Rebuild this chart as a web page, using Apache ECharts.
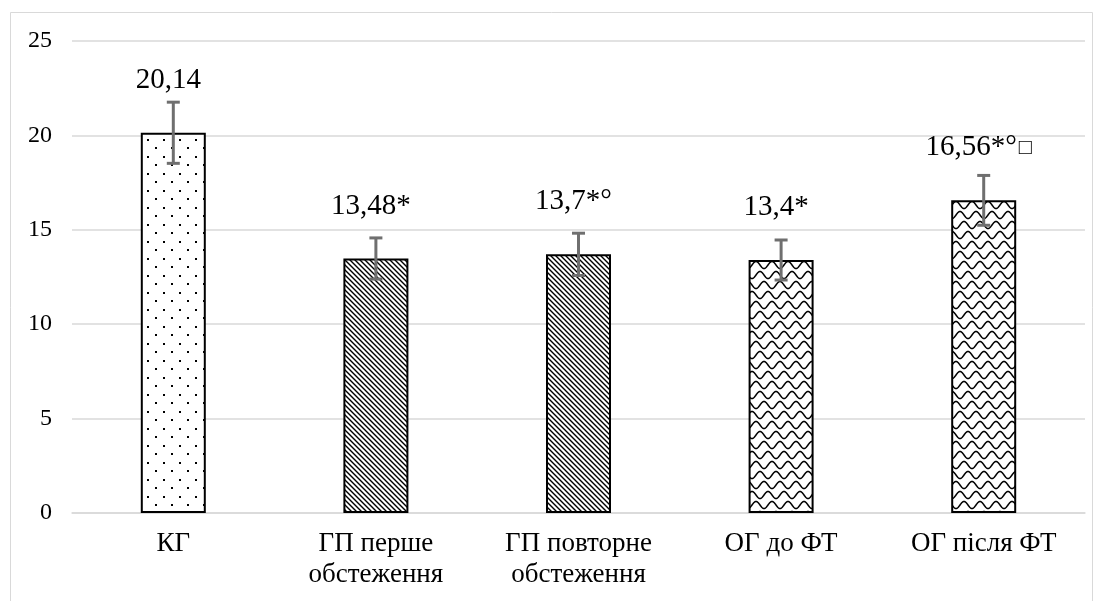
<!DOCTYPE html>
<html>
<head>
<meta charset="utf-8">
<script src="https://cdn.jsdelivr.net/npm/echarts@6/dist/echarts.min.js"></script>
<style>html,body{margin:0;padding:0;background:#fff}#c{width:1103px;height:601px}</style>
</head>
<body>
<div id="c"></div>
<script>
const categories = ['КГ', 'ГП перше\nобстеження', 'ГП повторне\nобстеження', 'ОГ до ФТ', 'ОГ після ФТ'];
const values = [20.14, 13.48, 13.7, 13.4, 16.56];
const errors = [1.62, 1.09, 1.12, 1.06, 1.32];
const valueLabels = ['20,14', '13,48*', '13,7*°', '13,4*', '16,56*°{sq|□}'];
const patternKinds = ['dots', 'diag', 'diag', 'wave', 'wave'];
const yTicks = [0, 5, 10, 15, 20, 25];

function makePattern(kind) {
  const c = document.createElement('canvas');
  const ctx = c.getContext('2d');
  if (kind === 'dots') {
    c.width = 16; c.height = 17;
    ctx.fillStyle = '#fff'; ctx.fillRect(0, 0, 16, 17);
    ctx.fillStyle = '#000';
    ctx.fillRect(3, 3, 2, 2);
    ctx.fillRect(11, 11, 2, 2);
  } else if (kind === 'diag') {
    c.width = 5; c.height = 5;
    ctx.fillStyle = '#fff'; ctx.fillRect(0, 0, 5, 5);
    ctx.strokeStyle = '#000'; ctx.lineWidth = 1.4;
    ctx.beginPath();
    ctx.moveTo(-1, -1); ctx.lineTo(6, 6);
    ctx.moveTo(-1, 4); ctx.lineTo(1, 6);
    ctx.moveTo(4, -1); ctx.lineTo(6, 1);
    ctx.stroke();
  } else {
    c.width = 16; c.height = 40;
    ctx.fillStyle = '#fff'; ctx.fillRect(0, 0, 16, 40);
    ctx.strokeStyle = '#000'; ctx.lineWidth = 1.5;
    for (let r = -1; r <= 4; r++) {
      const y0 = 5 + r * 10;
      const shift = r * 4;
      ctx.beginPath();
      for (let x = -1; x <= 17; x += 0.5) {
        const y = y0 + 3.5 * Math.sin(2 * Math.PI * (x - shift) / 16);
        if (x === -1) ctx.moveTo(x, y); else ctx.lineTo(x, y);
      }
      ctx.stroke();
    }
  }
  return { image: c, repeat: 'repeat' };
}

const font = '"Liberation Serif", "Times New Roman", serif';
const chart = echarts.init(document.getElementById('c'), null, { renderer: 'canvas' });

chart.setOption({
  animation: false,
  backgroundColor: '#fff',
  textStyle: { fontFamily: font },
  graphic: [{
    type: 'rect', shape: { x: 10.5, y: 12.5, width: 1082, height: 600 },
    style: { fill: 'none', stroke: '#d9d9d9', lineWidth: 1 }, silent: true
  }],
  grid: { left: 72, right: 18, top: 41, bottom: 88 },
  xAxis: {
    type: 'category',
    data: categories,
    axisLine: { lineStyle: { color: '#d9d9d9', width: 1.5 } },
    axisTick: { show: false },
    axisLabel: { color: '#000', fontFamily: font, fontSize: 27, lineHeight: 31, margin: 15, interval: 0 }
  },
  yAxis: {
    type: 'value', min: 0, max: 25, interval: 5,
    axisLine: { show: false }, axisTick: { show: false },
    splitLine: { lineStyle: { color: '#d9d9d9', width: 1.5 } },
    axisLabel: {
      color: '#000', fontFamily: font, fontSize: 24, margin: 20,
      formatter: v => yTicks.includes(v) ? String(v) : ''
    }
  },
  series: [{
    type: 'bar',
    barWidth: 65,
    data: values.map((v, i) => ({
      value: v,
      itemStyle: { color: makePattern(patternKinds[i]), borderColor: '#000', borderWidth: 2 }
    })),
    label: {
      show: true, position: 'top', distance: 38, offset: [-5, 0],
      color: '#000', fontFamily: font, fontSize: 29,
      formatter: p => valueLabels[p.dataIndex],
      rich: { sq: { fontFamily: font, fontSize: 22, color: '#000', verticalAlign: 'middle', padding: [0, 0, 0, 2] } }
    },
    z: 2
  }, {
    type: 'custom',
    data: values.map((v, i) => [i, v, errors[i]]),
    renderItem: function (params, api) {
      const x = api.value(0), v = api.value(1), e = api.value(2);
      const top = api.coord([x, v + e]);
      const bot = api.coord([x, v - e]);
      const hw = 6.5;
      const st = { stroke: '#6f6f6f', lineWidth: 3 };
      return {
        type: 'group',
        children: [
          { type: 'line', shape: { x1: top[0], y1: top[1], x2: bot[0], y2: bot[1] }, style: st },
          { type: 'line', shape: { x1: top[0] - hw, y1: top[1], x2: top[0] + hw, y2: top[1] }, style: st },
          { type: 'line', shape: { x1: bot[0] - hw, y1: bot[1], x2: bot[0] + hw, y2: bot[1] }, style: st }
        ]
      };
    },
    z: 5
  }]
});
</script>
</body>
</html>
